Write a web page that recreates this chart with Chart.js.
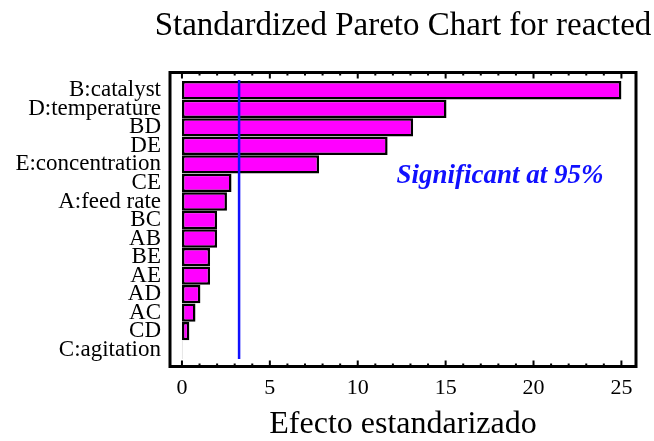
<!DOCTYPE html>
<html>
<head>
<meta charset="utf-8">
<script src="https://cdn.jsdelivr.net/npm/chart.js@4/dist/chart.umd.min.js"></script>
<style>
  body { margin: 0; background: #fff; }
  canvas { display: block; }
</style>
</head>
<body>
<canvas id="pareto" width="654" height="441"></canvas>
<script>
// data
var effects = ['B:catalyst', 'D:temperature', 'BD', 'DE', 'E:concentration', 'CE', 'A:feed rate',
               'BC', 'AB', 'BE', 'AE', 'AD', 'AC', 'CD', 'C:agitation'];
var stdEffect = [25.0, 15.05, 13.15, 11.7, 7.8, 2.82, 2.56, 2.0, 2.0, 1.6, 1.6, 1.05, 0.77, 0.42, 0.02];
var xTicks = [0, 5, 10, 15, 20, 25];
var limit95 = 3.25; // linea de significancia

var chartTitle = 'Standardized Pareto Chart for reacted';
var xTitle = 'Efecto estandarizado';
var noteText = 'Significant at 95%';

var serif = "'Liberation Serif', 'Times New Roman', serif";

// marco, marcas, linea azul y textos
var paretoDecor = {
  id: 'paretoDecor',
  afterDatasetsDraw: function(chart) {
    var ctx = chart.ctx;
    var a = chart.chartArea;
    var xs = chart.scales.x;
    var ys = chart.scales.y;
    var top = a.top - 8.5, bottom = a.bottom + 7.5;

    ctx.save();
    // linea azul
    var lx = xs.getPixelForValue(limit95);
    ctx.strokeStyle = '#1010ff';
    ctx.lineWidth = 2.5;
    ctx.beginPath();
    ctx.moveTo(lx, a.top - 1);
    ctx.lineTo(lx, a.bottom);
    ctx.stroke();

    // marco
    ctx.strokeStyle = '#000';
    ctx.lineWidth = 3;
    ctx.strokeRect(a.left, top, a.right - a.left, bottom - top);

    // marcas
    ctx.lineWidth = 2;
    for (var v = 0; v <= 25; v++) {
      var px = xs.getPixelForValue(v);
      var len = (v % 5 == 0) ? 6 : 3;
      ctx.beginPath();
      ctx.moveTo(px, top);
      ctx.lineTo(px, top + len);
      ctx.moveTo(px, bottom);
      ctx.lineTo(px, bottom - len);
      ctx.stroke();
    }

    // titulo
    ctx.fillStyle = '#000';
    ctx.font = '33px ' + serif;
    ctx.textAlign = 'center';
    ctx.textBaseline = 'alphabetic';
    ctx.fillText(chartTitle, (a.left + a.right) / 2, 35);

    // nota
    ctx.fillStyle = '#1010ff';
    ctx.font = 'italic bold 27px ' + serif;
    ctx.textAlign = 'left';
    ctx.fillText(noteText, xs.getPixelForValue(12.2), ys.getPixelForValue(5) + 0.5);
    ctx.restore();
  }
};

var ctx = document.getElementById('pareto').getContext('2d');
var myChart = new Chart(ctx, {
  type: 'bar',
  data: {
    labels: effects,
    datasets: [{
      data: stdEffect,
      backgroundColor: '#ff00ff',
      borderColor: '#000',
      borderWidth: 2.5,
      borderSkipped: false,
      barPercentage: 0.99,
      categoryPercentage: 1
    }]
  },
  options: {
    indexAxis: 'y',
    responsive: false,
    animation: false,
    devicePixelRatio: 1,
    layout: { padding: { left: 0, right: 18, top: 81, bottom: 0 } },
    plugins: {
      legend: { display: false },
      tooltip: { enabled: false },
      title: { display: false }
    },
    scales: {
      x: {
        type: 'linear',
        min: -0.68,
        max: 25.83,
        afterBuildTicks: function(scale) {
          scale.ticks = xTicks.map(function(v) { return { value: v }; });
        },
        afterFit: function(scale) { scale.height = 82; },
        grid: { display: false, drawTicks: false },
        border: { display: false },
        ticks: {
          padding: 16,
          color: '#000',
          font: { family: serif, size: 22 },
          maxRotation: 0
        },
        title: {
          display: true,
          text: xTitle,
          color: '#000',
          font: { family: serif, size: 32, lineHeight: 1 },
          padding: { top: 0, bottom: 0 }
        }
      },
      y: {
        afterFit: function(scale) { scale.width = 170; },
        grid: { display: false, drawTicks: false },
        border: { display: false },
        ticks: {
          autoSkip: false,
          padding: 9,
          color: '#000',
          font: { family: serif, size: 23, lineHeight: 1 }
        }
      }
    }
  },
  plugins: [paretoDecor]
});
</script>
</body>
</html>
